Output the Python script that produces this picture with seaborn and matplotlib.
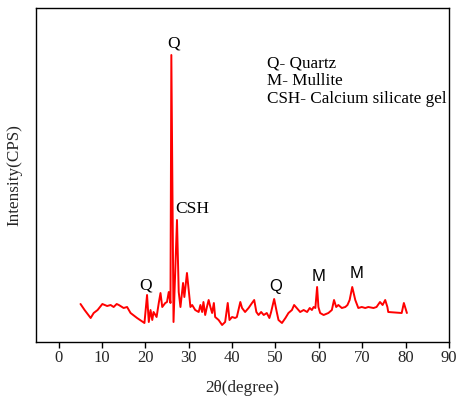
import matplotlib
matplotlib.use("Agg")
import matplotlib.pyplot as plt
import seaborn as sns
import pandas as pd

two_theta = [5.06, 6.0, 7.4, 8.1, 9.0, 10.1, 11.2, 12.0, 12.7, 13.4, 13.9, 15.0, 15.8, 16.6, 18.1,
             19.8, 20.4, 20.8, 21.2, 21.6, 21.9, 22.6, 23.1, 23.5, 23.9, 24.6, 25.0, 25.4, 25.8,
             26.0, 26.5, 27.3, 27.7, 28.1, 28.7, 29.0, 29.6, 30.0, 30.4, 30.8, 31.5, 32.3, 32.7,
             33.1, 33.4, 33.8, 34.2, 34.6, 35.0, 35.4, 35.8, 36.1, 36.9, 37.7, 38.4, 39.0, 39.4,
             40.0, 40.7, 41.1, 41.9, 42.3, 43.0, 43.8, 44.6, 45.1, 45.6, 46.1, 46.7, 47.3, 48.0,
             48.6, 49.0, 49.7, 50.3, 50.7, 51.5, 52.3, 53.0, 53.8, 54.3, 54.9, 55.7, 56.5, 57.3,
             57.9, 58.4, 58.8, 59.2, 59.6, 59.9, 60.3, 61.1, 62.2, 63.0, 63.5, 64.0, 64.5, 65.3,
             66.1, 66.6, 67.1, 67.7, 68.4, 69.1, 69.9, 70.7, 71.4, 72.6, 73.3, 74.1, 74.7, 75.3,
             75.8, 76.0, 79.1, 79.6, 80.3]
intensity = [38, 32, 24, 29, 32, 38, 36, 37, 35, 38, 37, 34, 35, 29, 24,
             19, 47, 20, 32, 22, 30, 25, 39, 49, 35, 39, 40, 50, 39,
             287, 20, 122, 50, 35, 59, 45, 69, 52, 35, 37, 32, 30, 37,
             30, 40, 27, 35, 42, 35, 29, 39, 25, 22, 17, 20, 39, 22,
             25, 24, 25, 40, 34, 30, 34, 39, 42, 30, 27, 30, 27, 29,
             24, 30, 43, 30, 22, 19, 24, 29, 32, 37, 34, 30, 32, 30,
             34, 32, 35, 34, 55, 35, 29, 27, 29, 32, 42, 35, 37, 34,
             35, 37, 42, 55, 42, 34, 35, 34, 35, 34, 35, 40, 37, 42,
             35, 30, 29, 39, 29]

x_ticks = [0, 10, 20, 30, 40, 50, 60, 70, 80, 90]

peak_labels = ["Q", "CSH", "Q", "Q", "M", "M"]
peak_x = [26.5, 30.8, 20.0, 50.0, 59.9, 68.6]
peak_y = [298, 133, 57, 56, 66, 69]
peak_fonts = ["Liberation Serif", "Liberation Serif", "Liberation Serif",
              "Liberation Sans", "Liberation Sans", "Liberation Sans"]

legend_lines = ["Q- Quartz", "M- Mullite", "CSH- Calcium silicate gel"]

sns.set_style("white")
plt.rcParams['font.family'] = ['Liberation Serif', 'DejaVu Serif']

fig = plt.figure(figsize=(4.58, 3.98), dpi=100)
ax = fig.add_axes([0.0786, 0.1407, 0.9017, 0.8392])

df = pd.DataFrame({"x": two_theta, "y": intensity})
sns.lineplot(data=df, x="x", y="y", color="#ff0000", linewidth=1.4,
             estimator=None, sort=False, ax=ax)

ax.set_xlim(-5.2, 90)
ax.set_ylim(0, 334)
ax.set_xticks(x_ticks)
ax.set_xticklabels([str(t) for t in x_ticks], fontsize=12)
ax.set_yticks([])
ax.tick_params(axis="x", direction="out", length=4, width=1, color="black", pad=2, bottom=True)
for s in ax.spines.values():
    s.set_color("black")
    s.set_linewidth(1.0)

ax.set_xlabel("2θ(degree)", fontsize=12.3, labelpad=10)
ax.set_ylabel("Intensity(CPS)", fontsize=12.3, labelpad=10)

for lab, px, py, fam in zip(peak_labels, peak_x, peak_y, peak_fonts):
    ax.text(px, py, lab, ha="center", va="center",
            fontsize=12.5 if fam.endswith("Serif") else 12,
            family=fam, color="black")

for i, line in enumerate(legend_lines):
    ax.text(48.0, 279 - i * 18, line, ha="left", va="center", fontsize=12.3, color="black")

fig.savefig("out.png", dpi=100)
